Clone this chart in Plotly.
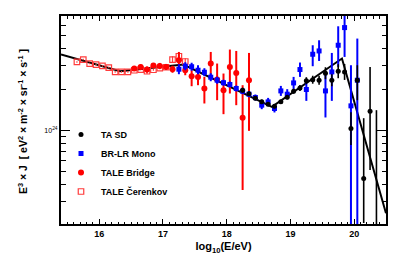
import plotly.graph_objects as go

# ---------------- data (E^3 J in eV^2 m^-2 sr^-1 s^-1) ----------------
# TA SD
sd_x  = [18.25, 18.35, 18.45, 18.55, 18.65, 18.75, 18.85, 18.95, 19.05, 19.15,
         19.25, 19.35, 19.45, 19.55, 19.65, 19.75, 19.85, 19.95, 20.05, 20.15,
         20.25, 20.35]
sd_y  = [1.983, 1.869, 1.731, 1.631, 1.564, 1.511, 1.626, 1.761, 1.950, 2.063,
         2.331, 2.371, 2.351, 2.648, 2.351, 2.739, 2.707, 1.035, 2.351, 0.442,
         1.388, 0.155]
sd_hi = [2.070, 1.933, 1.791, 1.688, 1.618, 1.564, 1.682, 1.822, 2.035, 2.170,
         2.474, 2.537, 2.537, 2.932, 2.603, 3.086, 3.101, 1.365, 3.033, 1.232,
         2.947, 1.412]
sd_lo = [1.901, 1.806, 1.673, 1.577, 1.511, 1.461, 1.571, 1.702, 1.869, 1.960,
         2.196, 2.215, 2.178, 2.391, 2.123, 2.432, 2.362, 0.779, 1.673, 0.207,
         0.509, 0.050]

# BR-LR Mono
br_x  = [17.25, 17.35, 17.45, 17.55, 17.65, 17.75, 17.85, 17.95, 18.05, 18.15,
         18.25, 18.35, 18.45, 18.55, 18.65, 18.75, 18.85, 18.95, 19.05, 19.15,
         19.25, 19.35, 19.45, 19.55, 19.65, 19.75, 19.85, 19.95, 20.05]
br_y  = [2.834, 2.983, 2.957, 2.786, 2.693, 2.474, 2.351, 2.253, 2.185, 2.042,
         1.950, 1.853, 1.752, 1.537, 1.626, 1.453, 1.960, 1.853, 2.245, 2.819,
         2.007, 3.657, 3.868, 1.960, 2.707, 4.262, 5.756, 1.519, 2.351]
br_hi = [3.086, 3.192, 3.165, 3.033, 2.883, 2.648, 2.495, 2.371, 2.299, 2.148,
         2.052, 1.950, 1.844, 1.645, 1.740, 1.556, 2.134, 2.018, 2.487, 3.176,
         2.284, 4.262, 4.638, 2.707, 3.739, 5.885, 8.410, 3.033, 4.775]
br_lo = [2.603, 2.786, 2.763, 2.603, 2.516, 2.311, 2.215, 2.141, 2.077, 1.940,
         1.853, 1.761, 1.665, 1.436, 1.519, 1.358, 1.800, 1.702, 2.028, 2.487,
         1.654, 2.983, 3.263, 1.247, 1.654, 2.947, 3.493, 0.110, 0.110]

# TALE Bridge
tb_x  = [16.55, 16.65, 16.75, 16.85, 16.95, 17.05, 17.15, 17.25, 17.35, 17.45,
         17.55, 17.65, 17.75, 17.85, 17.95, 18.05, 18.15, 18.25, 18.35]
tb_y  = [2.868, 2.947, 2.819, 3.017, 2.997, 2.947, 2.834, 3.303, 2.786, 2.516,
         2.487, 2.042, 3.122, 2.379, 1.983, 2.947, 2.661, 1.239, 2.351]
tb_hi = [2.992, 3.075, 2.967, 3.149, 3.154, 3.101, 3.007, 3.803, 3.033, 2.786,
         2.786, 2.487, 3.803, 3.122, 2.634, 3.961, 3.868, 2.160, 3.739]
tb_lo = [2.749, 2.824, 2.679, 2.892, 2.849, 2.801, 2.670, 2.868, 2.559, 2.123,
         2.160, 1.582, 2.559, 1.673, 1.319, 1.875, 1.537, 0.363, 0.993]

# TALE Cerenkov
tc_x  = [15.65, 15.75, 15.85, 15.95, 16.05, 16.15, 16.25, 16.35, 16.45, 16.55,
         16.65, 16.75, 16.85, 16.95, 17.05, 17.15, 17.25, 17.35]
tc_y  = [3.209, 3.342, 3.122, 3.070, 2.997, 2.917, 2.707, 2.707, 2.707, 2.786,
         2.819, 2.739, 2.810, 2.883, 2.932, 3.342, 3.534, 3.231]
tc_hi = [3.250, 3.385, 3.162, 3.110, 3.035, 2.955, 2.745, 2.745, 2.745, 2.825,
         2.860, 2.875, 2.860, 2.930, 2.980, 3.540, 3.750, 3.420]
tc_lo = [3.170, 3.300, 3.082, 3.030, 2.960, 2.880, 2.670, 2.670, 2.670, 2.748,
         2.780, 2.610, 2.760, 2.836, 2.885, 3.150, 3.330, 3.050]

# broken power-law fit
fit_x = [15.40, 16.327, 17.32, 18.709, 19.809, 20.50]
fit_y = [3.638, 2.739, 3.070, 1.494, 3.399, 0.244]

SCALE = 1e24

def sc(v):
    return [a * SCALE for a in v]

def errs(y, hi, lo):
    return ([(h - c) * SCALE for c, h in zip(y, hi)],
            [(c - l) * SCALE for c, l in zip(y, lo)])

FONT = "Liberation Sans"
fig = go.Figure()

fig.add_trace(go.Scatter(
    x=fit_x, y=sc(fit_y), mode="lines", line=dict(color="black", width=2),
    showlegend=False, hoverinfo="skip"))

p, m = errs(tc_y, tc_hi, tc_lo)
fig.add_trace(go.Scatter(
    x=tc_x, y=sc(tc_y), mode="markers", name="TALE Čerenkov",
    marker=dict(symbol="square-open", size=5.5, color="#ff3b3b", line=dict(width=1.2)),
    error_y=dict(type="data", array=p, arrayminus=m, width=0, thickness=1.2, color="#ff3b3b"),
    legendgroup="d", legendrank=4))

p, m = errs(tb_y, tb_hi, tb_lo)
fig.add_trace(go.Scatter(
    x=tb_x, y=sc(tb_y), mode="markers", name="TALE Bridge",
    marker=dict(symbol="circle", size=6, color="#ff0000"),
    error_y=dict(type="data", array=p, arrayminus=m, width=0, thickness=2, color="#ff0000"),
    legendgroup="c", legendrank=3))

p, m = errs(br_y, br_hi, br_lo)
fig.add_trace(go.Scatter(
    x=br_x, y=sc(br_y), mode="markers", name="BR-LR Mono",
    marker=dict(symbol="square", size=5, color="#0000ff"),
    error_y=dict(type="data", array=p, arrayminus=m, width=0, thickness=2, color="#0000ff"),
    legendgroup="b", legendrank=2))

p, m = errs(sd_y, sd_hi, sd_lo)
fig.add_trace(go.Scatter(
    x=sd_x, y=sc(sd_y), mode="markers", name="TA SD",
    marker=dict(symbol="circle", size=5, color="black"),
    error_y=dict(type="data", array=p, arrayminus=m, width=0, thickness=1.6, color="black"),
    legendgroup="a", legendrank=1))

minor_y = [k * 1e23 for k in range(2, 10)] + [k * 1e24 for k in range(2, 7)]

y_title = "E<sup>3</sup> × J  [ eV<sup>2</sup> × m<sup>-2</sup> × sr<sup>-1</sup> × s<sup>-1</sup> ]"

# the page body adds an 8px offset; figure is sized so the plot lands where the reference has it
fig.update_layout(
    width=405, height=256,
    margin=dict(l=53, r=27, t=8, b=40),
    paper_bgcolor="white", plot_bgcolor="white",
    font=dict(family=FONT, color="black", size=9, weight="bold"),
    showlegend=True,
    legend=dict(x=0.0, y=0.50, xanchor="left", yanchor="top",
                bgcolor="rgba(0,0,0,0)", borderwidth=0,
                font=dict(family=FONT, size=9, weight="bold"),
                tracegroupgap=0, itemwidth=30),
    xaxis=dict(
        range=[15.4, 20.5], tickmode="linear", tick0=16, dtick=1, automargin=False,
        ticks="inside", ticklen=5, tickwidth=1, tickcolor="black",
        showline=True, linecolor="black", linewidth=2, mirror="ticks",
        showgrid=False, zeroline=False,
        tickfont=dict(family=FONT, size=9, weight="bold"),
        minor=dict(dtick=0.1, tick0=16, ticks="inside", ticklen=2.5, tickwidth=1, tickcolor="black"),
        title=dict(text="log<sub>10</sub>(E/eV)", font=dict(family=FONT, size=11, weight="bold"), standoff=5),
    ),
    yaxis=dict(
        type="log", range=[23.3085, 24.8458], automargin=False,
        tickmode="array", tickvals=[1e24], ticktext=["10<sup>24</sup>"],
        ticks="inside", ticklen=9, tickwidth=1, tickcolor="black",
        showline=True, linecolor="black", linewidth=2, mirror="ticks",
        showgrid=False, zeroline=False,
        tickfont=dict(family=FONT, size=7, weight="normal"),
        minor=dict(tickmode="array", tickvals=minor_y, ticks="inside", ticklen=4.5,
                   tickwidth=1, tickcolor="black"),
    ),
    annotations=[dict(
        text=y_title, textangle=-90, xref="paper", yref="paper",
        x=-0.12, y=0.49, xanchor="center", yanchor="middle", showarrow=False,
        font=dict(family=FONT, size=10.5, weight="bold"))],
)

fig.write_html("out.html")
